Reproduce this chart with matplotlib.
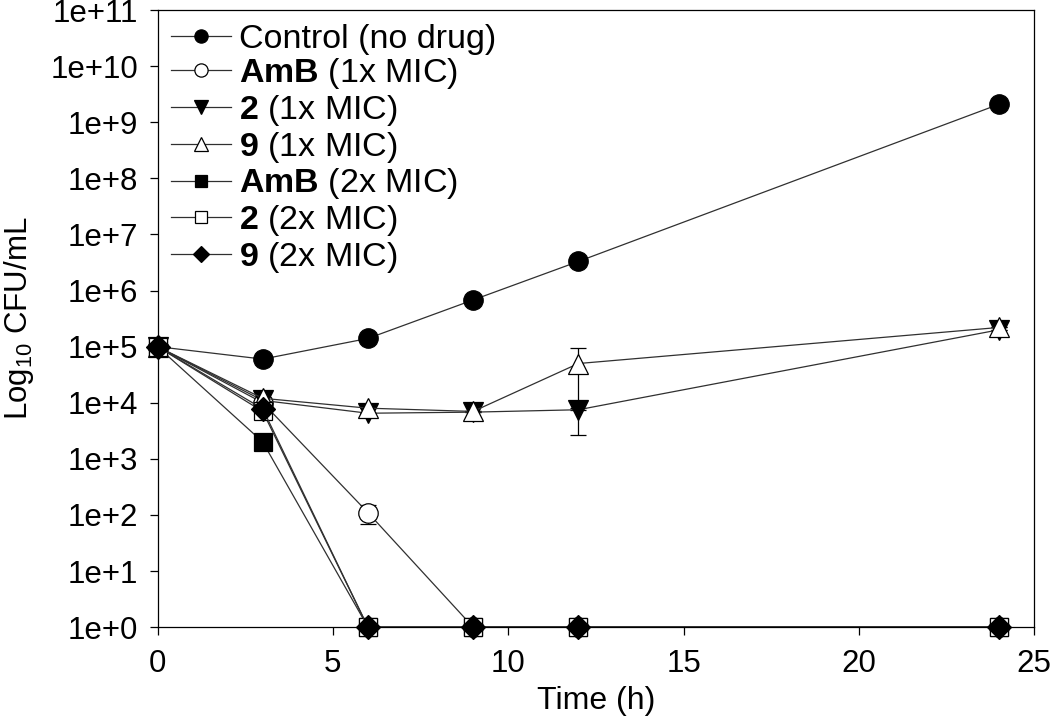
import matplotlib.pyplot as plt
import numpy as np
from matplotlib.ticker import FixedLocator, FuncFormatter

plt.rcParams['font.family'] = 'Liberation Sans'
plt.rcParams['mathtext.fontset'] = 'custom'
plt.rcParams['mathtext.rm'] = 'Liberation Sans'
plt.rcParams['mathtext.bf'] = 'Liberation Sans:bold'

time = [0, 3, 6, 9, 12, 24]

control = [1e5, 6e4, 1.4e5, 6.8e5, 3.3e6, 2.1e9]
amb_1x = [1e5, 1.0e4, 1.1e2, 1, 1, 1]
c2_1x = [1e5, 1.1e4, 6.5e3, 6.8e3, 7.5e3, 2.0e5]
c9_1x = [1e5, 1.2e4, 8.0e3, 7.0e3, 5.0e4, 2.2e5]
amb_2x = [1e5, 2.0e3, 1, 1, 1, 1]
c2_2x = [1e5, 7.0e3, 1, 1, 1, 1]
c9_2x = [1e5, 7.8e3, 1, 1, 1, 1]

# error bars (lower, upper) for the few points where they show
err_amb_1x = ([0, 0, 40, 0, 0, 0], [0, 0, 40, 0, 0, 0])
err_c2_1x = ([0, 0, 0, 0, 4.8e3, 0], [0, 0, 0, 0, 0, 0])
err_c9_1x = ([0, 0, 0, 0, 4.2e4, 0], [0, 0, 0, 0, 4.5e4, 0])
err_control = ([0, 0, 0, 0, 0, 2e8], [0, 0, 0, 0, 0, 2e8])

fig, ax = plt.subplots(figsize=(10.5, 7.2), dpi=100)
fig.subplots_adjust(left=0.15, right=0.985, top=0.986, bottom=0.129)

lc = '#303030'
common = dict(color=lc, lw=0.9, markeredgecolor='black', markeredgewidth=0.9,
              clip_on=False, capsize=6, elinewidth=0.9, ecolor='black')

series = [
    (control, err_control, 'o', 'black', 14, 'Control (no drug)'),
    (amb_1x, err_amb_1x, 'o', 'white', 14, r'$\bf{AmB}$ (1x MIC)'),
    (c2_1x, err_c2_1x, 'v', 'black', 14, r'$\bf{2}$ (1x MIC)'),
    (c9_1x, err_c9_1x, '^', 'white', 14, r'$\bf{9}$ (1x MIC)'),
    (amb_2x, None, 's', 'black', 13, r'$\bf{AmB}$ (2x MIC)'),
    (c2_2x, None, 's', 'white', 13, r'$\bf{2}$ (2x MIC)'),
    (c9_2x, None, 'D', 'black', 12, r'$\bf{9}$ (2x MIC)'),
]

handles = []
for vals, err, mk, fc, ms, lab in series:
    cont = ax.errorbar(time, vals, yerr=err, marker=mk, markerfacecolor=fc,
                       markersize=ms, label=lab, **common)
    handles.append(cont[0])

ax.set_yscale('log')
ax.set_xlim(0, 25)
ax.set_ylim(1, 1e11)
ax.set_xticks([0, 5, 10, 15, 20, 25])
ax.yaxis.set_major_locator(FixedLocator([10.0 ** k for k in range(12)]))
ax.yaxis.set_minor_locator(FixedLocator([]))
ax.yaxis.set_major_formatter(FuncFormatter(lambda v, p: '1e+%d' % round(np.log10(v))))
ax.tick_params(axis='both', labelsize=22.5, direction='out', length=6, width=0.9,
               colors='black')
ax.tick_params(axis='y', pad=8)
ax.tick_params(axis='x', pad=10)
for s in ax.spines.values():
    s.set_linewidth(0.9)

ax.set_xlabel('Time (h)', fontsize=23, labelpad=5)
ax.set_ylabel(r'Log$_{10}$ CFU/mL', fontsize=22.5, labelpad=10)

ax.legend(handles, [s[5] for s in series], loc='upper left', frameon=False,
          fontsize=24.5, handlelength=1.75, handletextpad=0.25, borderaxespad=0.0,
          borderpad=0.4, labelspacing=0.05, markerscale=0.68,
          bbox_to_anchor=(0.0, 1.0))

plt.savefig('out.png', dpi=100)
